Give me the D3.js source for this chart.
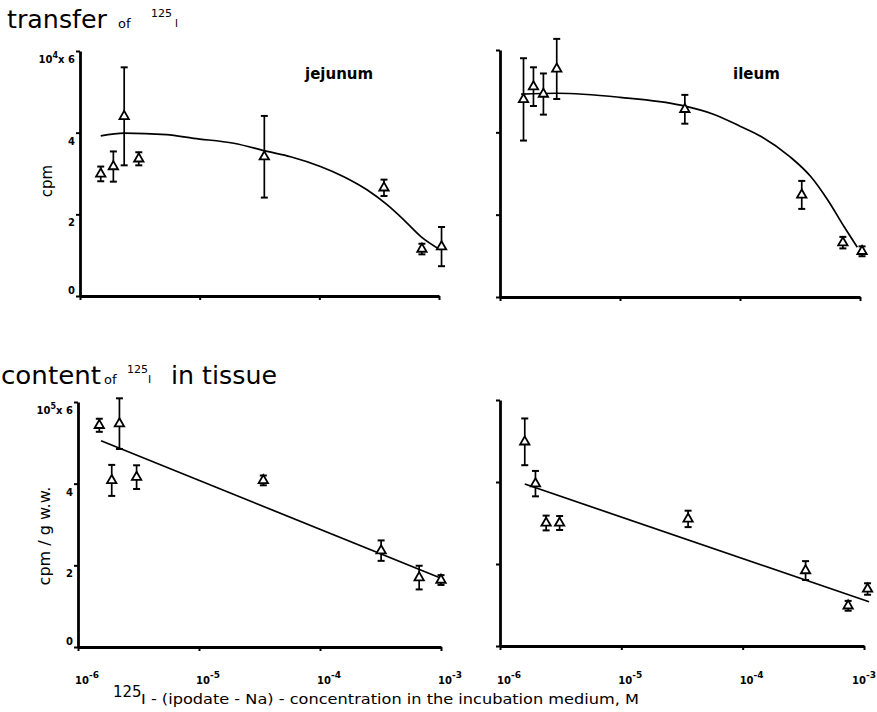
<!DOCTYPE html>
<html>
<head>
<meta charset="utf-8">
<script src="https://cdn.jsdelivr.net/npm/d3@7"></script>
<style>
  body { margin: 0; background: #fff; }
  svg { display: block; font-family: "DejaVu Sans", sans-serif; }
</style>
</head>
<body>
<div id="chart"></div>
<script>
// ---- data ----
const xTicks = [1e-6, 1e-5, 1e-4, 1e-3];
const xTickExp = ["-6", "-5", "-4", "-3"];
const yTicks = [0, 2, 4, 6];

// transfer of 125I, jejunum (cpm x 10^4)
const jejTransferConc = [1.49e-6, 1.9e-6, 2.34e-6, 3.1e-6, 3.47e-5, 3.47e-4, 7.2e-4, 1.05e-3];
const jejTransferMean = [2.99, 3.17, 4.4, 3.36, 3.41, 2.65, 1.15, 1.21];
const jejTransferErr  = [0.18, 0.37, 1.2, 0.16, 1.0, 0.2, 0.13, 0.48];
const jejTransferFitX = [1.49e-6, 2.34e-6, 5.3e-6, 8.9e-6, 1.93e-5, 3.67e-5, 5.75e-5, 1.02e-4, 1.6e-4, 2.5e-4, 3.7e-4, 5.1e-4, 7.1e-4, 1.03e-3];
const jejTransferFitY = [3.92, 3.99, 3.95, 3.86, 3.74, 3.54, 3.41, 3.17, 2.92, 2.60, 2.23, 1.86, 1.45, 1.13];

// transfer of 125I, ileum
const ilTransferConc = [1.57e-6, 1.9e-6, 2.3e-6, 2.97e-6, 3.47e-5, 3.27e-4, 7.2e-4, 1.04e-3];
const ilTransferMean = [4.80, 5.11, 4.93, 5.54, 4.56, 2.48, 1.32, 1.11];
const ilTransferErr  = [1.0, 0.47, 0.5, 0.73, 0.35, 0.34, 0.14, 0.12];
const ilTransferFitX = [1.5e-6, 3e-6, 1e-5, 3.2e-5, 6e-5, 1e-4, 1.5e-4, 2.6e-4, 3.9e-4, 5.4e-4, 7.4e-4, 9.5e-4];
const ilTransferFitY = [4.93, 4.95, 4.85, 4.66, 4.44, 4.15, 3.9, 3.41, 2.92, 2.35, 1.70, 1.21];

// content of 125I in tissue, jejunum (cpm/g w.w. x 10^5)
const jejContentConc = [1.5e-6, 1.9e-6, 2.2e-6, 3.05e-6, 3.4e-5, 3.2e-4, 6.6e-4, 1.0e-3];
const jejContentMean = [5.43, 4.08, 5.47, 4.16, 4.08, 2.36, 1.70, 1.64];
const jejContentErr  = [0.16, 0.38, 0.62, 0.29, 0.12, 0.25, 0.29, 0.12];
const jejContentFitX = [1.55e-6, 1.05e-3];
const jejContentFitY = [5.05, 1.66];

// content of 125I in tissue, ileum
const ilContentConc = [1.6e-6, 1.96e-6, 2.4e-6, 3.1e-6, 3.55e-5, 3.3e-4, 7.4e-4, 1.07e-3];
const ilContentMean = [4.98, 3.96, 3.0, 3.0, 3.1, 1.84, 0.98, 1.39];
const ilContentErr  = [0.57, 0.31, 0.18, 0.17, 0.2, 0.23, 0.12, 0.14];
const ilContentFitX = [1.6e-6, 1.1e-3];
const ilContentFitY = [3.95, 1.08];

const width = 877, height = 712;

const svg = d3.select("#chart").append("svg")
    .attr("width", width)
    .attr("height", height);

const panels = [
    { conc: jejTransferConc, mean: jejTransferMean, err: jejTransferErr,
      fitX: jejTransferFitX, fitY: jejTransferFitY,
      x0: 80, x1: 439, y0: 296, y1: 51, name: "jejunum", nameX: 305,
      left: true, bottom: false, exp: "4" },
    { conc: ilTransferConc, mean: ilTransferMean, err: ilTransferErr,
      fitX: ilTransferFitX, fitY: ilTransferFitY,
      x0: 500, x1: 860, y0: 297, y1: 50, name: "ileum", nameX: 733,
      left: false, bottom: false },
    { conc: jejContentConc, mean: jejContentMean, err: jejContentErr,
      fitX: jejContentFitX, fitY: jejContentFitY,
      x0: 78, x1: 441, y0: 647, y1: 402,
      left: true, bottom: true, exp: "5" },
    { conc: ilContentConc, mean: ilContentMean, err: ilContentErr,
      fitX: ilContentFitX, fitY: ilContentFitY,
      x0: 500, x1: 864, y0: 646, y1: 400,
      left: false, bottom: true }
];

panels.forEach(drawPanel);

function drawPanel(p) {
    const x = d3.scaleLog().domain([1e-6, 1e-3]).range([p.x0, p.x1]);
    const y = d3.scaleLinear().domain([0, 6]).range([p.y0, p.y1]);
    const g = svg.append("g");

    // axes
    const xAxis = g.append("g")
        .attr("transform", `translate(0,${p.y0})`)
        .call(d3.axisBottom(x).tickValues(xTicks).tickSize(4).tickSizeOuter(0).tickFormat(""));
    const yAxis = g.append("g")
        .attr("transform", `translate(${p.x0},0)`)
        .call(d3.axisLeft(y).tickValues(yTicks).tickSize(4).tickSizeOuter(0).tickFormat(""));
    [xAxis, yAxis].forEach(a => {
        a.select(".domain").attr("stroke", "#000").attr("stroke-width", 2.8);
        a.selectAll(".tick line").attr("stroke", "#000").attr("stroke-width", 2);
    });

    // y tick labels
    if (p.left) {
        yTicks.forEach(v => {
            const t = g.append("text")
                .attr("x", p.x0 - 5)
                .attr("y", y(v) + (v === 0 ? -2 : 12))
                .attr("text-anchor", "end")
                .attr("font-size", 10)
                .attr("font-weight", "bold");
            if (v === 6) {
                t.append("tspan").text("10");
                t.append("tspan").attr("font-size", 8).attr("dy", -5).text(p.exp);
                t.append("tspan").attr("dy", 5).text("x 6");
            } else {
                t.text(v);
            }
        });
    }

    // x tick labels
    if (p.bottom) {
        xTicks.forEach((v, i) => {
            const t = g.append("text")
                .attr("x", x(v) - 3)
                .attr("y", 684)
                .attr("font-size", 10)
                .attr("font-weight", "bold");
            t.append("tspan").text("10");
            t.append("tspan").attr("font-size", 9).attr("dy", -6).text(xTickExp[i]);
            // keep the last label inside the page
            const box = t.node().getBBox();
            if (box.x + box.width > width - 1) {
                t.attr("x", width - 1 - box.width);
            }
        });
    }

    // fitted curve
    const line = d3.line()
        .x(d => x(d[0]))
        .y(d => y(d[1]))
        .curve(d3.curveMonotoneX);
    g.append("path")
        .datum(d3.zip(p.fitX, p.fitY))
        .attr("d", line)
        .attr("fill", "none")
        .attr("stroke", "#000")
        .attr("stroke-width", 1.7);

    // error bars
    const pts = p.conc.map((c, i) => ({ c: c, m: p.mean[i], e: p.err[i] }));
    const bars = g.append("g").attr("stroke", "#000").attr("stroke-width", 1.7);
    pts.forEach(d => {
        const cx = x(d.c);
        bars.append("line").attr("x1", cx).attr("x2", cx)
            .attr("y1", y(d.m - d.e)).attr("y2", y(d.m + d.e));
        [d.m - d.e, d.m + d.e].forEach(v => {
            bars.append("line").attr("x1", cx - 3.5).attr("x2", cx + 3.5)
                .attr("y1", y(v)).attr("y2", y(v)).attr("stroke-width", 2);
        });
    });

    // triangles
    g.selectAll("path.pt")
        .data(pts)
        .enter().append("path")
        .attr("class", "pt")
        .attr("d", d3.symbol(d3.symbolTriangle).size(38))
        .attr("transform", d => `translate(${x(d.c)},${y(d.m)})`)
        .attr("fill", "#fff")
        .attr("stroke", "#000")
        .attr("stroke-width", 1.8);

    if (p.name) {
        g.append("text")
            .attr("x", p.nameX)
            .attr("y", 79)
            .attr("font-size", 15)
            .attr("font-weight", "bold")
            .text(p.name);
    }
}

// y axis titles
svg.append("text")
    .attr("transform", "translate(52,181) rotate(-90)")
    .attr("text-anchor", "middle")
    .attr("font-size", 15)
    .text("cpm");
svg.append("text")
    .attr("transform", "translate(50,536) rotate(-90)")
    .attr("text-anchor", "middle")
    .attr("font-size", 16)
    .text("cpm / g w.w.");

// section titles
const t1 = svg.append("text").attr("y", 28);
t1.append("tspan").attr("x", 7).attr("font-size", 24)
    .attr("textLength", 100).attr("lengthAdjust", "spacingAndGlyphs").text("transfer");
t1.append("tspan").attr("x", 118).attr("font-size", 13).text("of");
t1.append("tspan").attr("x", 151).attr("y", 17).attr("font-size", 11).text("125");
t1.append("tspan").attr("x", 175).attr("y", 27).attr("font-size", 10).text("I");

const t2 = svg.append("text").attr("y", 384);
t2.append("tspan").attr("x", 1).attr("font-size", 24)
    .attr("textLength", 100).attr("lengthAdjust", "spacingAndGlyphs").text("content");
t2.append("tspan").attr("x", 104).attr("font-size", 13).text("of");
t2.append("tspan").attr("x", 127).attr("y", 373).attr("font-size", 11).text("125");
t2.append("tspan").attr("x", 148).attr("y", 383).attr("font-size", 11).text("I");
t2.append("tspan").attr("x", 171).attr("y", 384).attr("font-size", 24)
    .attr("textLength", 106).attr("lengthAdjust", "spacingAndGlyphs").text("in tissue");

// x axis title
svg.append("text")
    .attr("x", 113).attr("y", 697)
    .attr("font-size", 15)
    .text("125");
svg.append("text")
    .attr("x", 141).attr("y", 704)
    .attr("font-size", 14)
    .attr("textLength", 498)
    .attr("lengthAdjust", "spacingAndGlyphs")
    .text("I - (ipodate - Na) - concentration in the incubation medium, M");
</script>
</body>
</html>
